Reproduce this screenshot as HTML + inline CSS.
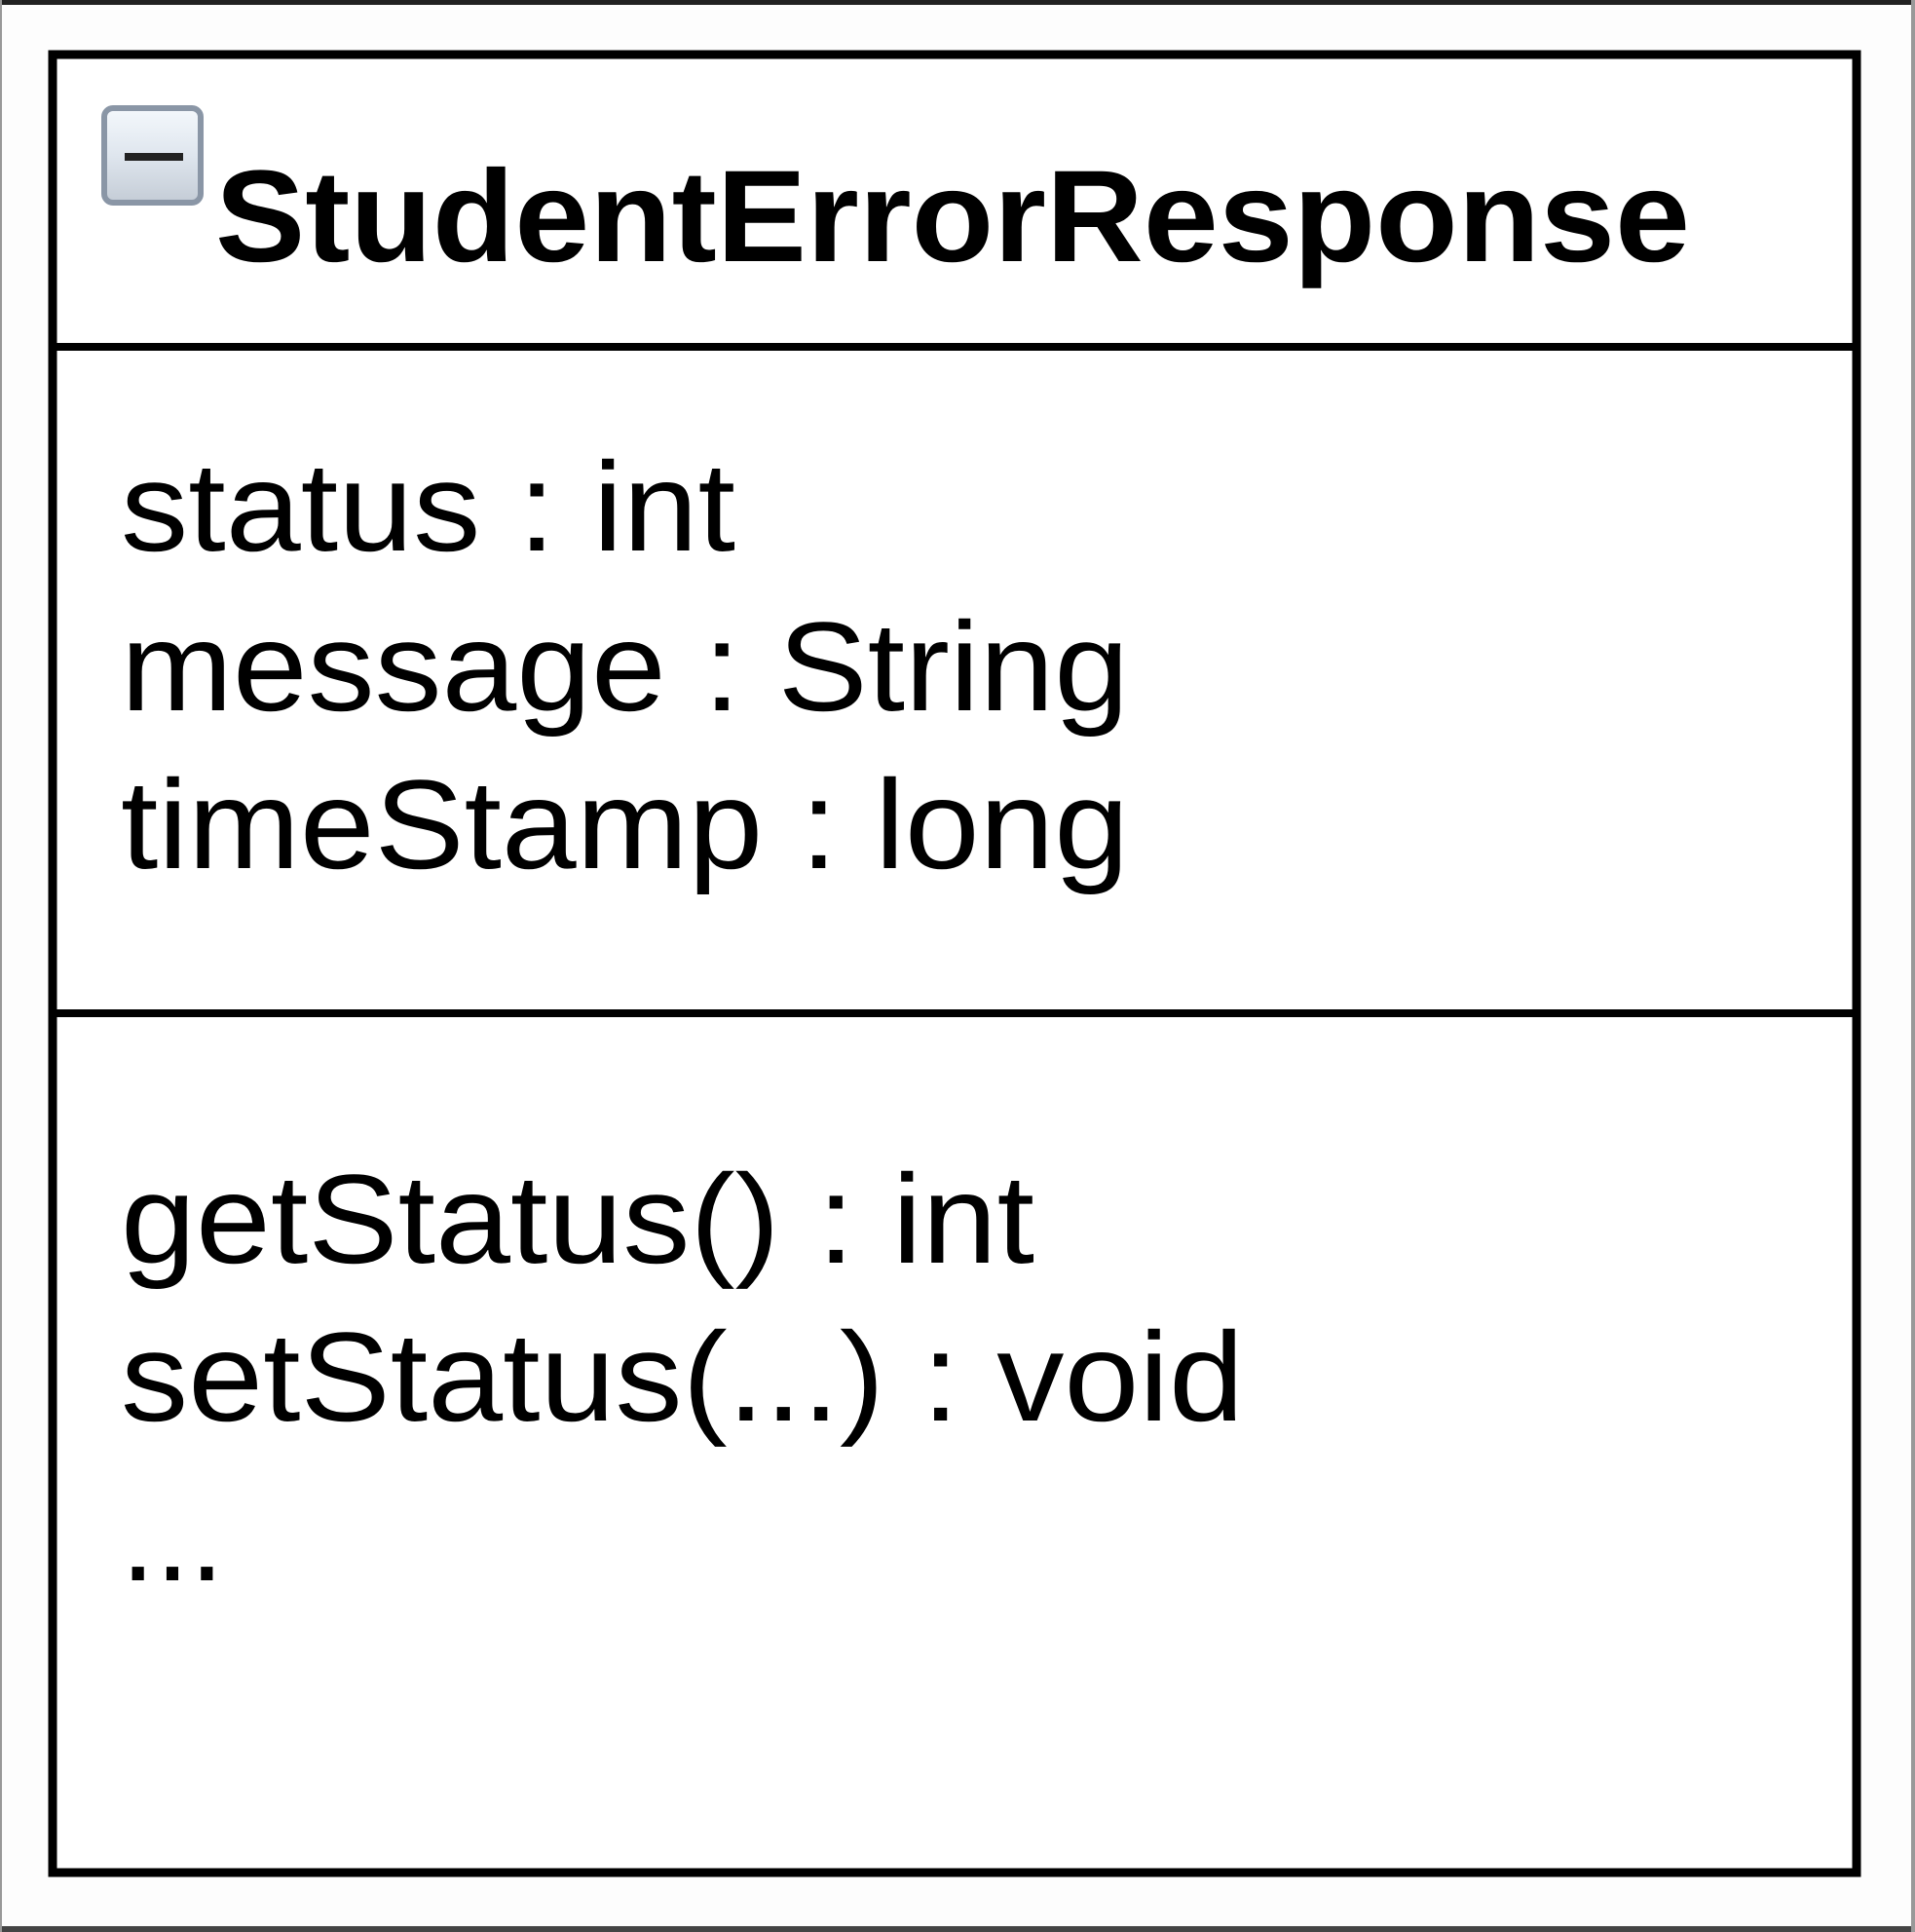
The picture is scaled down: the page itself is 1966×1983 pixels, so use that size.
<!DOCTYPE html>
<html><head><style>html,body{margin:0;padding:0;background:#fff;}svg{display:block}</style></head>
<body>
<svg width="1966" height="1983" viewBox="0 0 1966 1983" xmlns="http://www.w3.org/2000/svg">
<defs><linearGradient id="g" x1="0" y1="0" x2="0" y2="1"><stop offset="0" stop-color="#f4f8fc"/><stop offset="0.5" stop-color="#dfe6ee"/><stop offset="1" stop-color="#c4ccd6"/></linearGradient></defs>
<rect x="0" y="0" width="1966" height="1983" fill="#fdfdfd"/>
<rect x="0" y="0" width="1966" height="5" fill="#222"/>
<rect x="0" y="1977" width="1966" height="6" fill="#444"/>
<rect x="0" y="0" width="2" height="1983" fill="#999"/>
<rect x="1962" y="0" width="4" height="1983" fill="#999"/>
<rect x="54" y="56" width="1852" height="1866" fill="#fff" stroke="#000" stroke-width="9"/>
<line x1="54" y1="356" x2="1906" y2="356" stroke="#000" stroke-width="8"/>
<line x1="54" y1="1040" x2="1906" y2="1040" stroke="#000" stroke-width="8"/>
<rect x="107" y="111" width="99" height="97" rx="9" fill="url(#g)" stroke="#8a96a6" stroke-width="6"/>
<rect x="128" y="157" width="60" height="8" fill="#222"/>
<g font-family="Liberation Sans, Arial, sans-serif" fill="#000">
<text x="221" y="268" font-size="134" font-weight="bold" textLength="1514" lengthAdjust="spacingAndGlyphs">StudentErrorResponse</text>
<g font-size="130">
<text x="124" y="565" textLength="631" lengthAdjust="spacingAndGlyphs">status : int</text>
<text x="124" y="729" textLength="1035" lengthAdjust="spacingAndGlyphs">message : String</text>
<text x="124" y="891" textLength="1035" lengthAdjust="spacingAndGlyphs">timeStamp : long</text>
<text x="124" y="1296" textLength="938" lengthAdjust="spacingAndGlyphs">getStatus() : int</text>
<text x="124" y="1458" textLength="1153" lengthAdjust="spacingAndGlyphs">setStatus(...) : void</text>
<text x="124" y="1622" textLength="106" lengthAdjust="spacingAndGlyphs">...</text>
</g></g>
</svg>
</body></html>
